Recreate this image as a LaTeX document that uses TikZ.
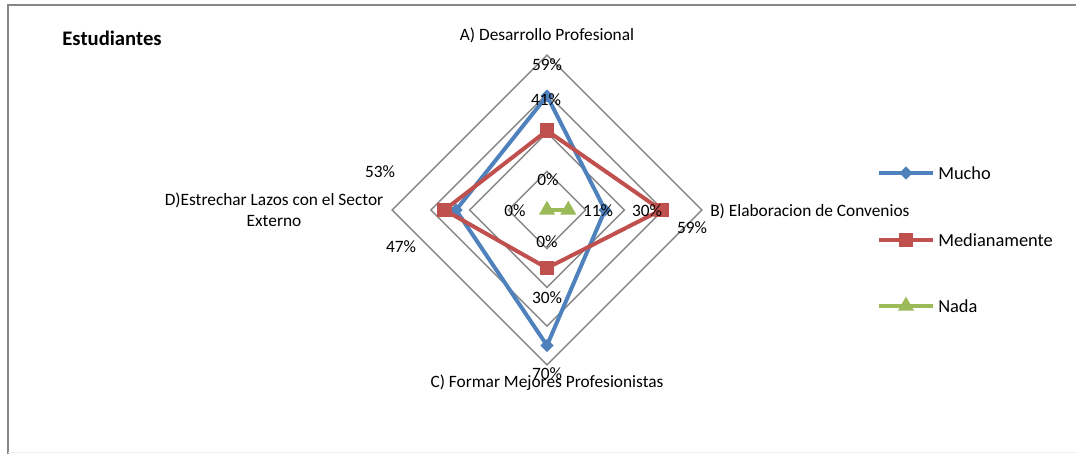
\documentclass[tikz,border=0pt]{standalone}
\usepackage{fontspec}
\setmainfont{Carlito}
\usetikzlibrary{shapes.geometric}
\definecolor{mucho}{HTML}{4F81BD}
\definecolor{medio}{HTML}{C0504D}
\definecolor{nada}{HTML}{9BBB59}
\definecolor{rejilla}{HTML}{868686}
\begin{document}
\begin{tikzpicture}[x=0.75pt,y=-0.75pt,
  rejillaline/.style={rejilla,line width=1.1pt},
  serie/.style={line width=3pt,line join=round},
  lbl/.style={font=\fontsize{13}{15.8}\selectfont,inner sep=0pt},
  leyenda/.style={font=\fontsize{13.8}{16}\selectfont,inner sep=0pt,anchor=west},
  mdiam/.style={diamond,fill=mucho,inner sep=0pt,minimum size=10pt},
  mcuad/.style={rectangle,fill=medio,inner sep=0pt,minimum size=11pt},
  mtri/.style={regular polygon,regular polygon sides=3,fill=nada,inner sep=0pt,minimum size=14pt}]
\useasboundingbox (0,0) rectangle (1076,454);

% Frame
\draw[rejilla,line width=1.5pt] (8,454) -- (8,5) -- (1076,5);
\draw[black!6,line width=1pt] (8,452.5) -- (1076,452.5);

\node[font=\fontsize{15.5}{18}\selectfont\bfseries,inner sep=0pt] (titulo) at (112,38) {Estudiantes};

% Grid (20% steps, 80% at the outer ring)
\def\k{1.935}
\foreach \r in {1,...,4}
  \draw[rejillaline] (547,{210-38.7*\r}) -- ({547+38.7*\r},210) -- (547,{210+38.7*\r}) -- ({547-38.7*\r},210) -- cycle;

% Mucho
\coordinate (mA) at (547,{210-59*\k});
\coordinate (mB) at ({547+30*\k},210);
\coordinate (mC) at (547,{210+70*\k});
\coordinate (mD) at ({547-47*\k},210);
\draw[serie,mucho] (mA) -- (mB) -- (mC) -- (mD) -- cycle;
\foreach \p in {mA,mB,mC,mD}
  \node[mdiam] (d\p) at (\p) {};

% Medianamente
\coordinate (eA) at (547,{210-41*\k});
\coordinate (eB) at ({547+59*\k},210);
\coordinate (eC) at (547,{210+30*\k});
\coordinate (eD) at ({547-53*\k},210);
\draw[serie,medio] (eA) -- (eB) -- (eC) -- (eD) -- cycle;
\foreach \p in {eA,eB,eC,eD}
  \node[mcuad] (s\p) at (\p) {};

% Nada
\coordinate (nO) at (547,210);
\coordinate (nB) at ({547+11*\k},210);
\draw[serie,nada] (nO) -- (nB);
\node[mtri] (tO) at (nO) {};
\node[mtri] (tB) at (nB) {};

% Data labels
\node[lbl] (lmA) at (547,65) {59\%};
\node[lbl] (leA) at (546,100) {41\%};
\node[lbl] (lnA) at (548,180) {0\%};
\node[lbl] (lnB) at (598,211) {11\%};
\node[lbl] (lmB) at (647,211) {30\%};
\node[lbl] (leB) at (692,228) {59\%};
\node[lbl] (lnC) at (547,242) {0\%};
\node[lbl] (leC) at (547,298) {30\%};
\node[lbl] (lmC) at (547,374) {70\%};
\node[lbl] (lnD) at (515,211) {0\%};
\node[lbl] (leD) at (380,172) {53\%};
\node[lbl] (lmD) at (401,247) {47\%};

% Categories
\node[lbl] (catA) at (547,35) {A) Desarrollo Profesional};
\node[lbl,anchor=west] (catB) at (710,211) {B) Elaboracion de Convenios};
\node[lbl] (catC) at (547,383) {C) Formar Mejores Profesionistas};
\node[lbl,align=center] (catD) at (274,210) {D)Estrechar Lazos con el Sector\\Externo};

% Legend
\coordinate (g1a) at (879,173); \coordinate (g1b) at (933,173);
\coordinate (g2a) at (879,240); \coordinate (g2b) at (933,240);
\coordinate (g3a) at (879,306); \coordinate (g3b) at (933,306);
\draw[serie,mucho] (g1a) -- (g1b);
\draw[serie,medio] (g2a) -- (g2b);
\draw[serie,nada] (g3a) -- (g3b);
\node[mdiam] (k1) at (906,173) {};
\node[mcuad] (k2) at (906,240) {};
\node[mtri] (k3) at (906,306) {};
\node[leyenda] (t1) at (938,173) {Mucho};
\node[leyenda] (t2) at (938,240) {Medianamente};
\node[leyenda] (t3) at (938,306) {Nada};

\end{tikzpicture}
\end{document}
